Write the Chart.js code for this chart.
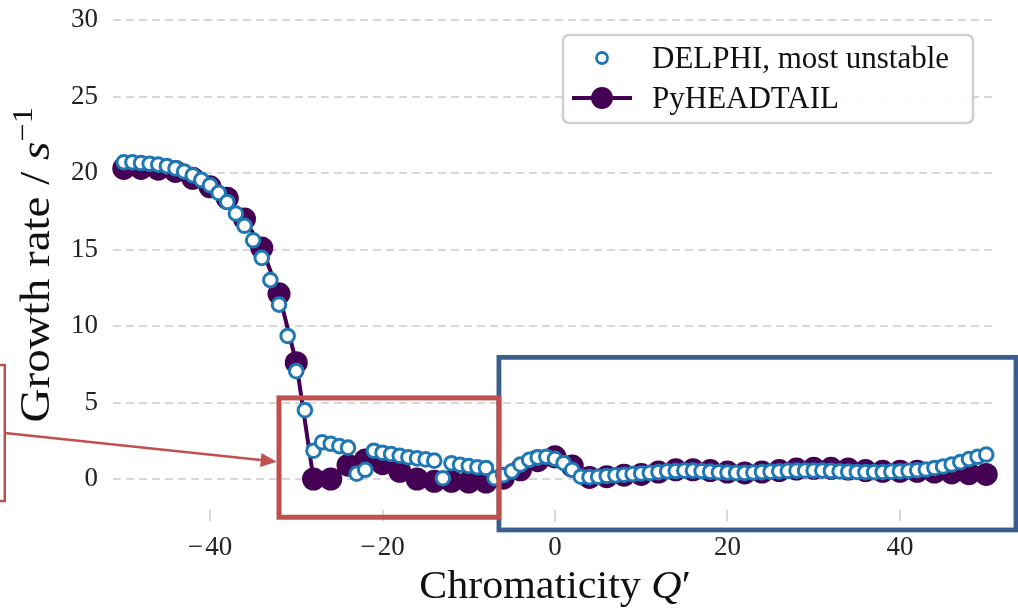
<!DOCTYPE html>
<html>
<head>
<meta charset="utf-8">
<script src="https://cdn.jsdelivr.net/npm/chart.js@4.4.1/dist/chart.umd.min.js"></script>
<style>
  html, body { margin: 0; padding: 0; background: #fff; }
  #wrap { width: 1018px; height: 609px; }
</style>
</head>
<body>
<div id="wrap"><canvas id="growth" width="1018" height="609"></canvas></div>
<script>
// ---------- DATA ----------
// DELPHI: most unstable mode, one point per unit of chromaticity
const delphiQ = [
  -50, -49, -48, -47, -46, -45, -44, -43, -42, -41,
  -40, -39, -38, -37, -36, -35, -34, -33, -32, -31,
  -30, -29, -28, -27, -26, -25, -24, -23, -22, -21,
  -20, -19, -18, -17, -16, -15, -14, -13, -12, -11,
  -10, -9, -8, -7, -6, -5, -4, -3, -2, -1,
  0, 1, 2, 3, 4, 5, 6, 7, 8, 9,
  10, 11, 12, 13, 14, 15, 16, 17, 18, 19,
  20, 21, 22, 23, 24, 25, 26, 27, 28, 29,
  30, 31, 32, 33, 34, 35, 36, 37, 38, 39,
  40, 41, 42, 43, 44, 45, 46, 47, 48, 49, 50
];
const delphiRate = [
  20.7, 20.7, 20.65, 20.6, 20.55, 20.45, 20.3, 20.1, 19.85, 19.55,
  19.2, 18.7, 18.1, 17.35, 16.55, 15.6, 14.45, 13.0, 11.4, 9.35,
  7.05, 4.5, 1.85, 2.4, 2.3, 2.15, 2.05, 0.35, 0.6, 1.85,
  1.72, 1.63, 1.52, 1.42, 1.35, 1.28, 1.2, 0.05, 1.03, 0.93,
  0.85, 0.77, 0.72, 0.05, 0.25, 0.5, 0.95, 1.25, 1.4, 1.45,
  1.32, 1.05, 0.6, 0.15, 0.12, 0.15, 0.2, 0.24, 0.28, 0.32,
  0.36, 0.4, 0.45, 0.5, 0.52, 0.55, 0.55, 0.52, 0.48, 0.44,
  0.42, 0.4, 0.4, 0.42, 0.45, 0.48, 0.5, 0.53, 0.55, 0.56,
  0.56, 0.55, 0.53, 0.5, 0.48, 0.46, 0.45, 0.45, 0.46, 0.48,
  0.5, 0.53, 0.57, 0.62, 0.72, 0.82, 0.95, 1.1, 1.3, 1.45, 1.6
];

// PyHEADTAIL simulation, every second chromaticity value
const pyhtQ = [
  -50, -48, -46, -44, -42, -40, -38, -36, -34, -32,
  -30, -28, -26, -24, -22, -20, -18, -16, -14, -12,
  -10, -8, -6, -4, -2, 0, 2, 4, 6, 8,
  10, 12, 14, 16, 18, 20, 22, 24, 26, 28,
  30, 32, 34, 36, 38, 40, 42, 44, 46, 48, 50
];
const pyhtRate = [
  20.3, 20.3, 20.25, 20.1, 19.65, 19.1, 18.35, 17.0, 15.1, 12.1,
  7.6, 0.0, 0.0, 0.9, 1.25, 1.0, 0.5, 0.0, -0.15, -0.15,
  -0.2, -0.2, 0.05, 0.6, 1.2, 1.45, 0.85, 0.1, 0.15, 0.25,
  0.3, 0.45, 0.6, 0.6, 0.55, 0.45, 0.4, 0.45, 0.55, 0.65,
  0.7, 0.7, 0.65, 0.55, 0.5, 0.5, 0.5, 0.45, 0.4, 0.35, 0.3
];

const xTicks = [-40, -20, 0, 20, 40];
const yTicks = [0, 5, 10, 15, 20, 25, 30];

// ---------- STYLE ----------
const SERIF = '"Liberation Serif", "DejaVu Serif", serif';
const C_DELPHI = "#1f77b4";
const C_PYHT = "#440154";
const C_GRID = "#d6d9d6";
const C_RED = "#c0504d";
const C_BLUE = "#3b5f8c";

// callout frames and arrow, in data units
const zoomFrame = { x0: -32.0, x1: -6.5, y0: 5.3, y1: -2.5 };
const restFrame = { x0: -6.5, x1: 53.45, y0: 7.95, y1: -3.33 };
const sideFrame = { x0: -70, x1: -63.8, y0: 7.45, y1: -1.44 };
const arrowFrom = { x: -63.8, y: 3.0 };
const arrowTo = { x: -32.27, y: 1.13 };

// minus sign with a hair space, like the math font does
const fmtTick = v => (v < 0 ? "\u2212\u200A" + Math.abs(v) : String(v));

function drawParts(ctx, parts, x, y) {
  parts.forEach(p => {
    ctx.font = p.font;
    ctx.fillText(p.text, x, y - (p.rise || 0));
    x += ctx.measureText(p.text).width;
  });
}
function partsWidth(ctx, parts) {
  return parts.reduce((w, p) => { ctx.font = p.font; return w + ctx.measureText(p.text).width; }, 0);
}
// centred label, optionally rotated and widened a little (the serif here runs narrow)
function drawLabel(ctx, parts, cx, baseline, rot, stretch) {
  const w = partsWidth(ctx, parts);
  ctx.save();
  ctx.translate(cx, baseline);
  if (rot) ctx.rotate(rot);
  ctx.scale(stretch, 1);
  drawParts(ctx, parts, -w / 2, 0);
  ctx.restore();
}

// ---------- DECORATIONS ----------
const decor = {
  id: "decor",
  afterDraw(chart) {
    const { ctx, chartArea: a, scales: { x, y } } = chart;
    const px = v => x.getPixelForValue(v);
    const py = v => y.getPixelForValue(v);
    ctx.save();

    // axis titles
    ctx.fillStyle = "#111";
    ctx.textBaseline = "alphabetic";
    drawLabel(ctx, [
      { text: "Chromaticity ", font: `40px ${SERIF}` },
      { text: "Q", font: `italic 40px ${SERIF}` },
      { text: "\u2032", font: `40px ${SERIF}` }
    ], (a.left + a.right) / 2, chart.height - 11, 0, 1.05);

    drawLabel(ctx, [
      { text: "Growth rate / ", font: `42px ${SERIF}` },
      { text: "s", font: `italic 42px ${SERIF}` },
      { text: "\u22121", font: `29px ${SERIF}`, rise: 17 }
    ], 49, (a.top + a.bottom) / 2, -Math.PI / 2, 1.12);

    // legend
    const lx = a.right - 434, ly = a.top + 15, lw = 410, lh = 88;
    ctx.beginPath();
    ctx.roundRect(lx, ly, lw, lh, 6);
    ctx.fillStyle = "rgba(255,255,255,0.9)";
    ctx.fill();
    ctx.lineWidth = 2.5;
    ctx.strokeStyle = "#cfcfcf";
    ctx.stroke();

    ctx.beginPath();
    ctx.arc(lx + 39, ly + 23, 5.5, 0, Math.PI * 2);
    ctx.fillStyle = "#fff";
    ctx.fill();
    ctx.lineWidth = 2.8;
    ctx.strokeStyle = C_DELPHI;
    ctx.stroke();

    ctx.beginPath();
    ctx.moveTo(lx + 9, ly + 63);
    ctx.lineTo(lx + 69, ly + 63);
    ctx.lineWidth = 4;
    ctx.strokeStyle = C_PYHT;
    ctx.stroke();
    ctx.beginPath();
    ctx.arc(lx + 39, ly + 63, 11, 0, Math.PI * 2);
    ctx.fillStyle = C_PYHT;
    ctx.fill();

    ctx.fillStyle = "#111";
    ctx.font = `31px ${SERIF}`;
    ctx.fillText("DELPHI, most unstable", lx + 89, ly + 33);
    ctx.fillText("PyHEADTAIL", lx + 89, ly + 73);

    // callout frames
    const frame = (f, color, w) => {
      ctx.lineWidth = w;
      ctx.strokeStyle = color;
      ctx.strokeRect(px(f.x0), py(f.y0), px(f.x1) - px(f.x0), py(f.y1) - py(f.y0));
    };
    frame(restFrame, C_BLUE, 4.8);
    frame(zoomFrame, C_RED, 5);
    frame(sideFrame, C_RED, 2.5);

    // arrow to the zoom frame
    const x0 = px(arrowFrom.x), y0 = py(arrowFrom.y);
    const x1 = px(arrowTo.x), y1 = py(arrowTo.y);
    const ang = Math.atan2(y1 - y0, x1 - x0);
    const head = 16, half = 7;
    const bx = x1 - head * Math.cos(ang), by = y1 - head * Math.sin(ang);
    ctx.beginPath();
    ctx.moveTo(x0, y0);
    ctx.lineTo(bx, by);
    ctx.lineWidth = 2.5;
    ctx.strokeStyle = C_RED;
    ctx.stroke();
    ctx.beginPath();
    ctx.moveTo(x1, y1);
    ctx.lineTo(bx - half * Math.sin(ang), by + half * Math.cos(ang));
    ctx.lineTo(bx + half * Math.sin(ang), by - half * Math.cos(ang));
    ctx.closePath();
    ctx.fillStyle = C_RED;
    ctx.fill();

    ctx.restore();
  }
};

// ---------- CHART ----------
new Chart(document.getElementById("growth"), {
  type: "line",
  data: {
    datasets: [
      {
        label: "DELPHI, most unstable",
        data: delphiQ.map((q, i) => ({ x: q, y: delphiRate[i] })),
        showLine: false,
        pointRadius: 6.8,
        pointBorderWidth: 3,
        pointBackgroundColor: "#fff",
        pointBorderColor: C_DELPHI,
        order: 0,
        clip: false
      },
      {
        label: "PyHEADTAIL",
        data: pyhtQ.map((q, i) => ({ x: q, y: pyhtRate[i] })),
        borderColor: C_PYHT,
        borderWidth: 4,
        pointRadius: 11.5,
        pointBorderWidth: 0,
        pointBackgroundColor: C_PYHT,
        tension: 0,
        order: 1,
        clip: false
      }
    ]
  },
  options: {
    responsive: false,
    animation: false,
    layout: { padding: { top: 20, right: 21, left: 0, bottom: 0 } },
    plugins: { legend: { display: false }, tooltip: { enabled: false } },
    scales: {
      x: {
        type: "linear",
        min: -51.25,
        max: 51.25,
        afterBuildTicks: s => { s.ticks = xTicks.map(v => ({ value: v })); },
        afterFit: s => { s.height = 99.4; s.paddingLeft = 0; s.paddingRight = 0; },
        ticks: {
          callback: v => fmtTick(v),
          font: { family: SERIF, size: 27 },
          color: "#222",
          padding: 10,
          maxRotation: 0,
          autoSkip: false
        },
        grid: { drawOnChartArea: false, drawTicks: true, tickLength: 12, color: C_GRID, lineWidth: 2 },
        border: { display: false }
      },
      y: {
        min: -2,
        max: 30,
        afterBuildTicks: s => { s.ticks = yTicks.map(v => ({ value: v })); },
        // keep the plot top where the 30 line sits; the label overhang needs no room
        afterFit: s => { s.width = 113; s.paddingTop = 0; s.paddingBottom = 0; },
        ticks: {
          callback: v => fmtTick(v),
          font: { family: SERIF, size: 27 },
          color: "#222",
          padding: 15
        },
        grid: { color: C_GRID, lineWidth: 2, drawTicks: false },
        border: { display: false, dash: [8, 5] }
      }
    }
  },
  plugins: [decor]
});
</script>
</body>
</html>
